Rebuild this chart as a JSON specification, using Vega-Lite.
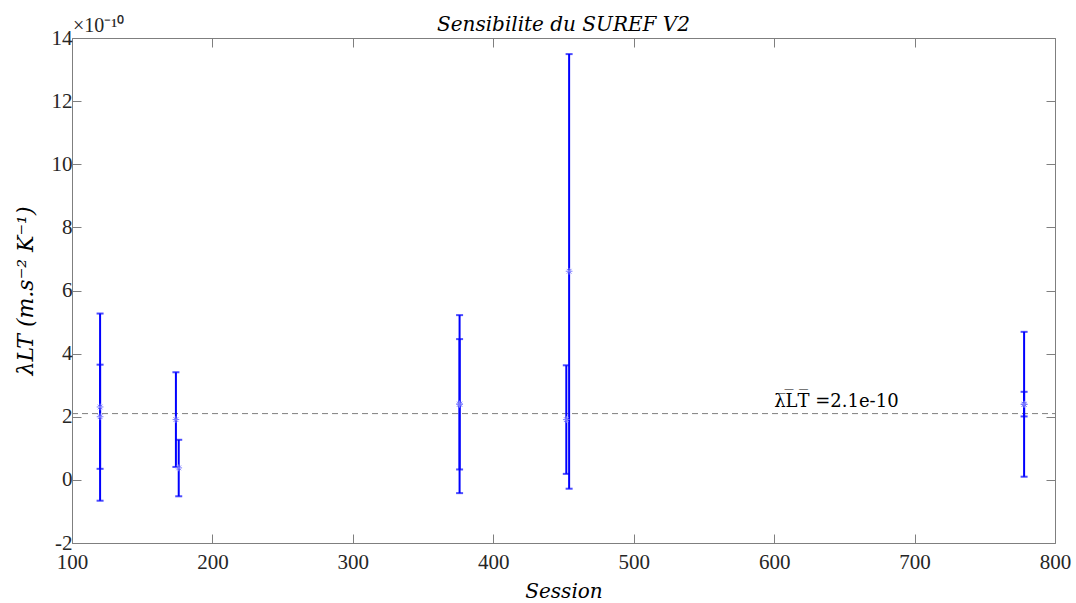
{
  "$schema": "https://vega.github.io/schema/vega-lite/v6.json",
  "width": 983,
  "height": 505,
  "autosize": {"type": "none"},
  "padding": {"left": 72, "top": 38, "right": 21, "bottom": 60},
  "background": "white",
  "title": {
    "text": "Sensibilite du SUREF V2",
    "frame": "group",
    "font": "DejaVu Serif",
    "fontStyle": "italic",
    "fontWeight": "normal",
    "fontSize": 20,
    "color": "#000000",
    "anchor": "middle",
    "baseline": "alphabetic",
    "offset": 11,
    "dy": 46
  },
  "config": {
    "view": {"stroke": "#7f7f7f", "strokeWidth": 1},
    "scale": {"continuousPadding": 0},
    "axis": {
      "domainColor": "#7f7f7f",
      "tickColor": "#7f7f7f",
      "grid": false,
      "labelFlush": false,
      "labelFont": "Liberation Serif",
      "labelFontSize": 21,
      "labelColor": "#262626",
      "titleFont": "DejaVu Serif",
      "titleFontStyle": "italic",
      "titleFontWeight": "normal",
      "titleFontSize": 20,
      "titleColor": "#000000"
    }
  },
  "datasets": {
    "bars": [
      {"session": 120, "value": 2.31, "low": -0.66, "high": 5.27},
      {"session": 120, "value": 2.00, "low": 0.35, "high": 3.65},
      {"session": 174, "value": 1.91, "low": 0.41, "high": 3.41},
      {"session": 176, "value": 0.38, "low": -0.52, "high": 1.27},
      {"session": 376, "value": 2.40, "low": -0.42, "high": 5.22},
      {"session": 376, "value": 2.40, "low": 0.33, "high": 4.46},
      {"session": 452, "value": 1.91, "low": 0.19, "high": 3.63},
      {"session": 454, "value": 6.61, "low": -0.28, "high": 13.49},
      {"session": 778, "value": 2.39, "low": 0.10, "high": 4.69},
      {"session": 778, "value": 2.40, "low": 2.01, "high": 2.79}
    ],
    "mean": [{"session0": 100, "session1": 800, "value": 2.1, "label": "λ̅L̅T̅ =2.1e-10", "lx": 600}],
    "scale": [{"session": 100, "value": 14, "label": "×10⁻¹⁰"}]
  },
  "layer": [
    {
      "data": {"name": "mean"},
      "mark": {"type": "rule", "color": "#7f7f7f", "strokeWidth": 1, "strokeDash": [6, 4]},
      "encoding": {
        "x": {
          "field": "session0", "type": "quantitative",
          "scale": {"domain": [100, 800], "nice": false, "zero": false, "padding": 0},
          "axis": {
            "title": "Session",
            "values": [100, 200, 300, 400, 500, 600, 700, 800],
            "labelExpr": "'' + datum.value",
            "tickSize": -9,
            "labelPadding": 17,
            "labelBaseline": "top",
            "titlePadding": 9,
            "domain": false
          }
        },
        "x2": {"field": "session1"},
        "y": {
          "field": "value", "type": "quantitative",
          "scale": {"domain": [-2, 14], "nice": false, "zero": false, "padding": 0},
          "axis": {
            "title": "λLT  (m.s⁻² K⁻¹)",
            "titleFontSize": 22,
            "values": [-2, 0, 2, 4, 6, 8, 10, 12, 14],
            "labelExpr": "'' + datum.value",
            "tickSize": -9,
            "labelPadding": 9,
            "titlePadding": 14,
            "domain": false
          }
        }
      }
    },
    {
      "data": {"name": "bars"},
      "mark": {"type": "rule", "color": "#0000ff", "strokeWidth": 2},
      "encoding": {
        "x": {"field": "session", "type": "quantitative", "scale": {"domain": [100, 800], "padding": 0}, "axis": {"orient": "top", "title": null, "labels": false, "tickSize": -9, "values": [100, 200, 300, 400, 500, 600, 700, 800], "domain": false}},
        "y": {"field": "low", "type": "quantitative", "scale": {"domain": [-2, 14], "padding": 0}, "axis": {"orient": "right", "title": null, "labels": false, "tickSize": -9, "values": [-2, 0, 2, 4, 6, 8, 10, 12, 14], "domain": false}},
        "y2": {"field": "high"}
      }
    },
    {
      "data": {"name": "bars"},
      "mark": {"type": "tick", "orient": "horizontal", "color": "#0000ff", "size": 7, "thickness": 2},
      "encoding": {
        "x": {"field": "session", "type": "quantitative", "axis": null},
        "y": {"field": "low", "type": "quantitative", "axis": null}
      }
    },
    {
      "data": {"name": "bars"},
      "mark": {"type": "tick", "orient": "horizontal", "color": "#0000ff", "size": 7, "thickness": 2},
      "encoding": {
        "x": {"field": "session", "type": "quantitative", "axis": null},
        "y": {"field": "high", "type": "quantitative", "axis": null}
      }
    },
    {
      "data": {"name": "bars"},
      "mark": {
        "type": "point",
        "shape": "M-1,0L1,0M0,-1L0,1M-0.7,-0.7L0.7,0.7M-0.7,0.7L0.7,-0.7",
        "filled": false,
        "color": "#7a7aff",
        "strokeWidth": 1,
        "size": 45,
        "opacity": 1
      },
      "encoding": {
        "x": {"field": "session", "type": "quantitative", "axis": null},
        "y": {"field": "value", "type": "quantitative", "axis": null}
      }
    },
    {
      "data": {"name": "mean"},
      "mark": {"type": "text", "align": "left", "baseline": "alphabetic", "dy": -7, "font": "DejaVu Serif", "fontSize": 18, "color": "#000000"},
      "encoding": {
        "x": {"field": "lx", "type": "quantitative", "axis": null},
        "y": {"field": "value", "type": "quantitative", "axis": null},
        "text": {"field": "label"}
      }
    },
    {
      "data": {"name": "scale"},
      "mark": {"type": "text", "align": "left", "baseline": "alphabetic", "dy": -6, "dx": 1, "font": "Liberation Serif", "fontSize": 20, "color": "#262626"},
      "encoding": {
        "x": {"field": "session", "type": "quantitative", "axis": null},
        "y": {"field": "value", "type": "quantitative", "axis": null},
        "text": {"field": "label"}
      }
    }
  ],
  "resolve": {"axis": {"x": "independent", "y": "independent"}}
}
